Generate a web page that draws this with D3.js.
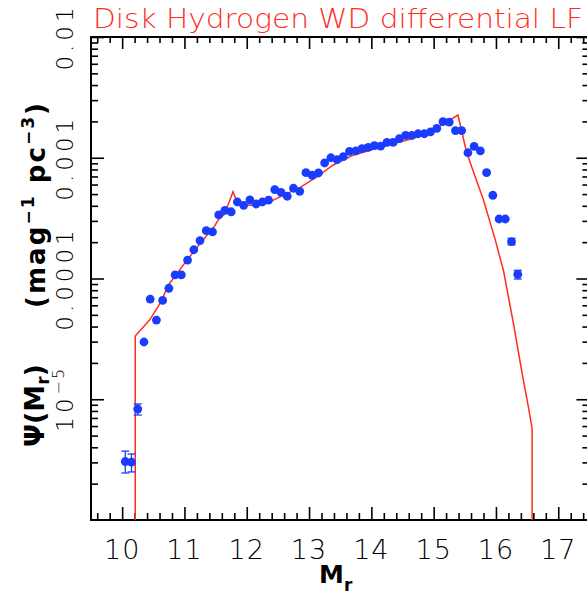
<!DOCTYPE html>
<html>
<head>
<meta charset="utf-8">
<script src="https://cdn.jsdelivr.net/npm/d3@7"></script>
<style>
  html, body { margin: 0; padding: 0; background: #fff; }
  svg { display: block; }
  .thin { font-family: "DejaVu Sans", sans-serif; font-weight: 200; }
  .bold { font-family: "DejaVu Sans", sans-serif; font-weight: bold; }
</style>
</head>
<body>
<div id="chart"></div>
<script>
// ---------- data ----------
const title = "Disk Hydrogen WD differential LF";
const xTickLabels = [10, 11, 12, 13, 14, 15, 16, 17];
const yTickValues = [1e-5, 1e-4, 1e-3, 1e-2];
const yTickLabels = ["10-5", "0.0001", "0.001", "0.01"];

// observed LF points (M_r, Psi)
const obsM = [10.05, 10.15, 10.25, 10.35, 10.45, 10.55, 10.65, 10.75, 10.85, 10.95,
  11.05, 11.15, 11.25, 11.35, 11.45, 11.55, 11.65, 11.75, 11.85, 11.95,
  12.05, 12.15, 12.25, 12.35, 12.45, 12.55, 12.65, 12.75, 12.85, 12.95,
  13.05, 13.15, 13.25, 13.35, 13.45, 13.55, 13.65, 13.75, 13.85, 13.95,
  14.05, 14.15, 14.25, 14.35, 14.45, 14.55, 14.65, 14.75, 14.85, 14.95,
  15.05, 15.15, 15.25, 15.35, 15.45, 15.55, 15.65, 15.75, 15.85, 15.95,
  16.05, 16.15, 16.25, 16.35];
const obsPsi = [3.05e-6, 3.02e-6, 8.3e-6, 2.98e-5, 6.76e-5, 4.53e-5, 6.58e-5, 8.3e-5, 1.07e-4, 1.07e-4,
  1.42e-4, 1.73e-4, 2.06e-4, 2.49e-4, 2.43e-4, 3.36e-4, 3.67e-4, 3.57e-4, 4.3e-4, 4.04e-4,
  4.47e-4, 4.14e-4, 4.3e-4, 4.45e-4, 5.44e-4, 5.17e-4, 4.8e-4, 5.59e-4, 5.27e-4, 7.52e-4,
  7.16e-4, 7.48e-4, 9.05e-4, 1.0e-3, 9.66e-4, 1.02e-3, 1.13e-3, 1.14e-3, 1.19e-3, 1.22e-3,
  1.26e-3, 1.25e-3, 1.34e-3, 1.34e-3, 1.44e-3, 1.53e-3, 1.53e-3, 1.58e-3, 1.58e-3, 1.64e-3,
  1.75e-3, 1.99e-3, 1.97e-3, 1.68e-3, 1.68e-3, 1.10e-3, 1.24e-3, 1.14e-3, 7.52e-4, 4.89e-4,
  3.11e-4, 3.11e-4, 2.02e-4, 1.08e-4];

// visible error bars (M_r, low, high)
const errM = [10.05, 10.15, 10.25, 16.25, 16.35];
const errLo = [2.45e-6, 2.50e-6, 7.41e-6, 1.90e-4, 9.9e-5];
const errHi = [3.72e-6, 3.52e-6, 9.14e-6, 2.15e-4, 1.17e-4];

// model LF curve
const modelM = [10.21, 10.21, 10.44, 10.63, 10.74, 10.98, 11.25, 11.48, 11.56, 11.63, 11.71, 11.78,
  11.83, 11.92, 12.05, 12.22, 12.38, 12.59, 12.86, 13.13, 13.39, 13.71, 14.14, 14.68,
  14.94, 15.10, 15.39, 15.52, 15.59, 15.80, 15.99, 16.12, 16.28, 16.42, 16.52, 16.58, 16.58];
const modelPsi = [1e-6, 3.34e-5, 4.53e-5, 6.5e-5, 8.8e-5, 1.29e-4, 1.95e-4, 2.7e-4, 3.15e-4, 3.35e-4, 4.2e-4, 5.24e-4,
  4.47e-4, 4.14e-4, 4.05e-4, 4.06e-4, 4.33e-4, 4.91e-4, 5.69e-4, 6.97e-4, 8.71e-4, 1.05e-3, 1.22e-3, 1.45e-3,
  1.64e-3, 1.83e-3, 2.26e-3, 1.16e-3, 9.0e-4, 4.47e-4, 2.08e-4, 1.17e-4, 4.26e-5, 1.64e-5, 8.67e-6, 5.74e-6, 1e-6];

// ---------- layout ----------
const W = 587, H = 596;
const L = 91, R = 589.4, T = 37, B = 520;
const blue = "#1a3cff", red = "#ff2d1f";

const svg = d3.select("#chart").append("svg").attr("width", W).attr("height", H);

const x = d3.scaleLinear().domain([9.5, 17.5]).range([L, R]);
const y = d3.scaleLog().domain([1e-6, 1e-2]).range([B, T]);

const xMinor = d3.range(9.6, 17.5, 0.2).map(v => +v.toFixed(1)).filter(v => Math.abs(v - Math.round(v)) > 1e-6);
const yMinor = [];
[-6, -5, -4, -3].forEach(e => { for (let k = 2; k <= 9; k++) yMinor.push(k * Math.pow(10, e)); });

function styleAxis(g) {
  g.select(".domain").remove();
  g.selectAll(".tick line").attr("stroke", "#000").attr("stroke-width", 1.6);
}

// bottom
svg.append("g").attr("transform", `translate(0,${B})`)
  .call(d3.axisBottom(x).tickValues(xTickLabels).tickSize(-13).tickFormat("")).call(styleAxis);
svg.append("g").attr("transform", `translate(0,${B})`)
  .call(d3.axisBottom(x).tickValues(xMinor).tickSize(-7).tickFormat("")).call(styleAxis);
// top
svg.append("g").attr("transform", `translate(0,${T})`)
  .call(d3.axisTop(x).tickValues(xTickLabels).tickSize(-12).tickFormat("")).call(styleAxis);
svg.append("g").attr("transform", `translate(0,${T})`)
  .call(d3.axisTop(x).tickValues(xMinor).tickSize(-6).tickFormat("")).call(styleAxis);
// left
svg.append("g").attr("transform", `translate(${L},0)`)
  .call(d3.axisLeft(y).tickValues(yTickValues).tickSize(-13).tickFormat("")).call(styleAxis);
svg.append("g").attr("transform", `translate(${L},0)`)
  .call(d3.axisLeft(y).tickValues(yMinor).tickSize(-7).tickFormat("")).call(styleAxis);
// right
svg.append("g").attr("transform", `translate(${R},0)`)
  .call(d3.axisRight(y).tickValues(yTickValues).tickSize(-13).tickFormat("")).call(styleAxis);
svg.append("g").attr("transform", `translate(${R},0)`)
  .call(d3.axisRight(y).tickValues(yMinor).tickSize(-7).tickFormat("")).call(styleAxis);

// frame
svg.append("rect").attr("x", L).attr("y", T).attr("width", R - L).attr("height", B - T)
  .attr("fill", "none").attr("stroke", "#000").attr("stroke-width", 2);

// x tick labels
svg.append("g").selectAll("text").data(xTickLabels).join("text")
  .attr("class", "thin").attr("x", d => x(d)).attr("y", 559)
  .attr("text-anchor", "middle").attr("font-size", 27).attr("fill", "#000")
  .attr("letter-spacing", 1)
  .text(d => d);

// y tick labels (rotated)
const yl = svg.append("g").selectAll("text").data(yTickValues).join("text")
  .attr("class", "thin")
  .attr("transform", d => `translate(73,${y(d)}) rotate(-90)`)
  .attr("text-anchor", "middle").attr("font-size", 23).attr("fill", "#000")
  .attr("letter-spacing", 4);
yl.each(function(d, i) {
  const t = d3.select(this);
  const lab = yTickLabels[i];
  if (lab === "10-5") {
    t.append("tspan").text("10");
    t.append("tspan").attr("dy", -9).attr("font-size", 16).attr("letter-spacing", 2).text("\u22125");
  } else {
    t.text(lab);
  }
});

// clip
svg.append("clipPath").attr("id", "clip").append("rect")
  .attr("x", L).attr("y", T).attr("width", R - L).attr("height", B - T);

// model line
const line = d3.line().x(d => x(d[0])).y(d => y(d[1]));
svg.append("path").attr("clip-path", "url(#clip)")
  .datum(modelM.map((m, i) => [m, modelPsi[i]]))
  .attr("d", line).attr("fill", "none").attr("stroke", red).attr("stroke-width", 1.5);

// error bars
const eg = svg.append("g").attr("stroke", blue).attr("stroke-width", 1.3);
errM.forEach((m, i) => {
  eg.append("line").attr("x1", x(m)).attr("x2", x(m)).attr("y1", y(errLo[i])).attr("y2", y(errHi[i]));
  eg.append("line").attr("x1", x(m) - 4).attr("x2", x(m) + 4).attr("y1", y(errLo[i])).attr("y2", y(errLo[i]));
  eg.append("line").attr("x1", x(m) - 4).attr("x2", x(m) + 4).attr("y1", y(errHi[i])).attr("y2", y(errHi[i]));
});

// points
svg.append("g").selectAll("circle").data(obsM.map((m, i) => [m, obsPsi[i]])).join("circle")
  .attr("cx", d => x(d[0])).attr("cy", d => y(d[1])).attr("r", 4.4).attr("fill", blue);

// title
svg.append("text").attr("class", "thin").attr("x", 93).attr("y", 28)
  .attr("font-size", 26).attr("fill", red)
  .attr("textLength", 490).attr("lengthAdjust", "spacingAndGlyphs")
  .text(title);

// x axis title
const xt = svg.append("text").attr("class", "bold").attr("x", 319).attr("y", 583)
  .attr("font-size", 25).attr("fill", "#000");
xt.append("tspan").text("M");
xt.append("tspan").attr("dy", 8).attr("font-size", 17).text("r");

// y axis title
const yt1 = svg.append("text").attr("class", "bold")
  .attr("transform", "translate(44,447) rotate(-90)")
  .attr("font-size", 27).attr("fill", "#000");
yt1.append("tspan").text("\u03A8(M");
yt1.append("tspan").attr("dy", 5).attr("font-size", 17).text("r");
yt1.append("tspan").attr("dy", -5).text(")");

const yt2 = svg.append("text").attr("class", "bold")
  .attr("transform", "translate(45,308) rotate(-90)")
  .attr("font-size", 26).attr("fill", "#000")
  .attr("textLength", 205).attr("lengthAdjust", "spacing");
yt2.append("tspan").text("(mag");
yt2.append("tspan").attr("dy", -11).attr("font-size", 17).text("\u22121");
yt2.append("tspan").attr("dy", 11).text("  pc");
yt2.append("tspan").attr("dy", -11).attr("font-size", 17).text("\u22123");
yt2.append("tspan").attr("dy", 11).text(")");
</script>
</body>
</html>
